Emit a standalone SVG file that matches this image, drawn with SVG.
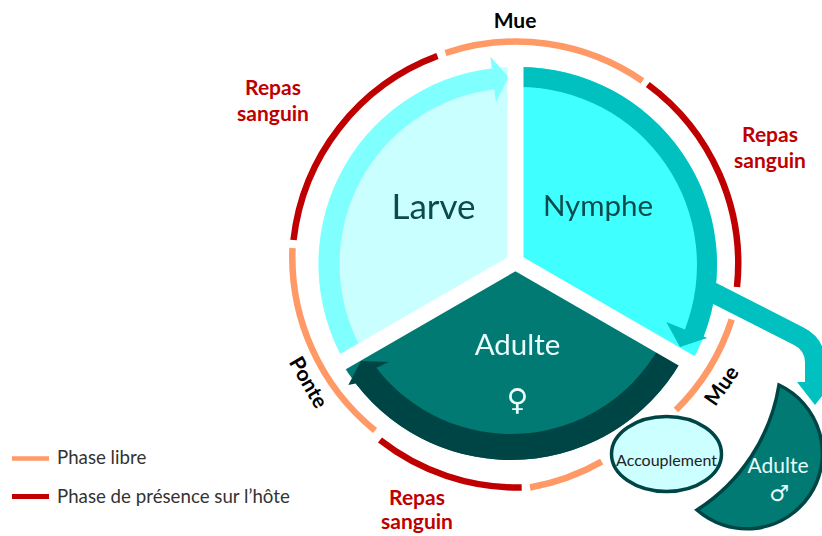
<svg xmlns="http://www.w3.org/2000/svg" width="822" height="536" viewBox="0 0 822 536">
<style>
text{font-family:Lato,'Open Sans','Liberation Sans',sans-serif}
.ring{fill:none;stroke-width:6.5}
.free{stroke:#FF9966}
.host{stroke:#C00000}
.lab{font-weight:700;font-size:21px;text-anchor:middle}
.meal{fill:#C00000}
.dark{fill:#000}
.node{text-anchor:middle}
.light{fill:#EAFDFD}
.sym{font-family:'DejaVu Sans',sans-serif;text-anchor:middle}
.leg{font-size:18.7px;fill:#333}
.edge{stroke:#004545;stroke-width:3.5}
</style>
<defs>
<mask id="gaps" maskUnits="userSpaceOnUse" x="0" y="0" width="822" height="536">
<rect width="822" height="536" fill="#fff"/>
<path d="M515.5 262V0M515.5 262L740.7 392M515.5 262L290.3 392" stroke="#000" stroke-width="16"/>
</mask>
</defs>
<rect width="822" height="536" fill="#fff"/>
<g id="ring">
<path class="ring host" d="M293.5 240A223 223 0 0 1 437.4 56"/>
<path class="ring free" d="M445.5 53A223 223 0 0 1 642.5 81"/>
<path class="ring host" d="M647.8 84.5A223 223 0 0 1 737 287"/>
<path class="ring free" d="M731.7 319.5A223 223 0 0 1 676 410"/>
<path class="ring free" d="M601.7 461.7A223 223 0 0 1 530 487.5"/>
<path class="ring host" d="M521.7 487.5A223 223 0 0 1 380 440"/>
<path class="ring free" d="M375 430.5A223 223 0 0 1 292.5 248"/>
</g>
<g mask="url(#gaps)">
<g id="larve">
<path d="M515.5 264L344.9 362.5A197 197 0 0 1 515.5 67Z" fill="#C9FFFF"/>
<path d="M344.9 362.5A197 197 0 0 1 491.8 68.4L490.4 56.5L508.5 77L495.9 102.2L494.4 89.3A176 176 0 0 0 363.1 352Z" fill="#80FFFF"/>
<text x="433.5" y="218.5" class="node" font-size="35" fill="#0B4B4B">Larve</text>
</g>
<g id="nymphe">
<path d="M519 265L519 67A198 198 0 0 1 690.5 364Z" fill="#40FFFF"/>
<path d="M519 67A198 198 0 0 1 703.6 336.6L707.3 338L680 347L666.3 322.1L684.9 329.4A178 178 0 0 0 519 87Z" fill="#00C0C0"/>
<text x="598" y="215.5" class="node" font-size="29.5" fill="#0B4B4B">Nymphe</text>
</g>
<g id="adulte-femelle">
<path d="M511 264L680.7 362A196 196 0 0 1 341.3 362Z" fill="#007A73"/>
<path d="M680.7 362A196 196 0 0 1 355.7 383.6L348.3 385L361 361L389 362L376.3 367.7A170 170 0 0 0 658.2 349Z" fill="#004545"/>
<text x="517.5" y="355" class="node light" font-size="29.5">Adulte</text>
<text x="517.5" y="410" class="sym light" font-size="30">♀</text>
</g>
</g>
<g id="connectors">
<path d="M700 286L799 336.4Q815 344.5 815 362.5L815 384" fill="none" stroke="#00C0C0" stroke-width="20"/>
<path d="M797 382L833 382L815 405Z" fill="#00C0C0"/>
</g>
<g id="accouplement">
<ellipse class="edge" cx="666.5" cy="454" rx="55" ry="37.5" fill="#CCFFFF"/>
<text x="666.5" y="465.5" class="node" font-size="16" fill="#222">Accouplement</text>
</g>
<g id="adulte-male">
<path class="edge" d="M779 385A75.5 75.5 0 1 1 697 510A183 183 0 0 0 779 385Z" fill="#007A73"/>
<text x="778" y="473" class="node light" font-size="21">Adulte</text>
<text x="779" y="501" class="sym light" font-size="22">♂</text>
</g>
<g id="labels">
<text class="lab dark" x="515" y="28">Mue</text>
<text class="lab meal" x="273" y="95">Repas</text>
<text class="lab meal" x="273" y="121">sanguin</text>
<text class="lab meal" x="770" y="142">Repas</text>
<text class="lab meal" x="770" y="168">sanguin</text>
<text class="lab meal" x="417" y="505">Repas</text>
<text class="lab meal" x="417" y="529">sanguin</text>
<text class="lab dark" transform="translate(308.3 382.5) rotate(60)" y="7">Ponte</text>
<text class="lab dark" transform="translate(721.7 385.8) rotate(-55)" y="7">Mue</text>
</g>
<g id="legend">
<line x1="12" y1="458.5" x2="49" y2="458.5" stroke="#FF9966" stroke-width="4.5"/>
<line x1="12" y1="496.5" x2="49" y2="496.5" stroke="#C00000" stroke-width="5"/>
<text class="leg" x="57" y="464">Phase libre</text>
<text class="leg" x="57" y="502.5">Phase de présence sur l’hôte</text>
</g>
</svg>
